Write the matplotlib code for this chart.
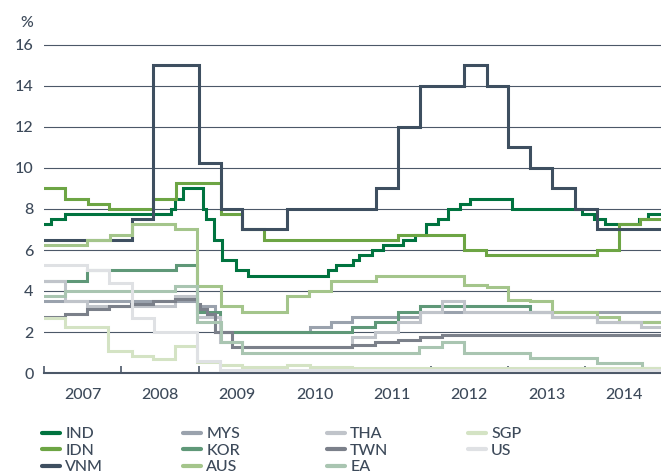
import matplotlib
matplotlib.use("Agg")
import matplotlib.pyplot as plt
from matplotlib.lines import Line2D

plt.rcParams['font.family'] = ['Lato', 'DejaVu Sans']
plt.rcParams['font.weight'] = 'medium'

END = 2015.0

# --- data: change points (decimal years) and policy rates (%) ---
ind_x = [2007.00, 2007.09, 2007.27, 2008.64, 2008.69, 2008.80, 2009.06, 2009.10, 2009.20, 2009.30,
         2009.48, 2009.64, 2010.67, 2010.78, 2011.00, 2011.08, 2011.24, 2011.39, 2011.64, 2011.80,
         2011.94, 2012.10, 2012.23, 2012.38, 2012.51, 2013.05, 2013.96, 2014.12, 2014.26, 2014.70, 2014.81]
ind_y = [7.25, 7.5, 7.75, 8.0, 8.5, 9.0, 8.0, 7.5, 6.5, 5.5,
         5.0, 4.75, 5.0, 5.25, 5.5, 5.75, 6.0, 6.25, 6.5, 6.75,
         7.25, 7.5, 8.0, 8.25, 8.5, 8.0, 7.75, 7.5, 7.25, 7.5, 7.75]

idn_x = [2007.00, 2007.27, 2007.57, 2007.84, 2008.41, 2008.71, 2009.29, 2009.56, 2009.85, 2011.58,
         2012.43, 2012.72, 2014.15, 2014.44, 2014.71]
idn_y = [9.0, 8.5, 8.25, 8.0, 8.5, 9.25, 7.75, 7.0, 6.5, 6.75,
         6.0, 5.75, 6.0, 7.25, 7.5]

vnm_x = [2007.00, 2008.14, 2008.41, 2009.01, 2009.29, 2009.56, 2010.14, 2011.30, 2011.58, 2011.86,
         2012.43, 2012.73, 2013.00, 2013.29, 2013.57, 2013.87, 2014.15]
vnm_y = [6.5, 7.5, 15.0, 10.25, 8.0, 7.0, 8.0, 9.0, 12.0, 14.0,
         15.0, 14.0, 11.0, 10.0, 9.0, 8.0, 7.0]

mys_x = [2007.00, 2008.98, 2009.21, 2010.44, 2010.71, 2010.98, 2011.86]
mys_y = [3.5, 3.25, 2.0, 2.25, 2.5, 2.75, 3.0]

kor_x = [2007.00, 2007.56, 2008.71, 2008.98, 2009.28, 2010.98, 2011.28, 2011.58, 2011.86, 2013.29,
         2013.57, 2014.15]
kor_y = [4.5, 5.0, 5.25, 3.0, 2.0, 2.25, 2.5, 3.0, 3.25, 3.0,
         2.75, 2.5]

aus_x = [2007.00, 2007.56, 2007.85, 2008.14, 2008.69, 2008.98, 2009.29, 2009.56, 2010.14, 2010.43,
         2010.71, 2011.30, 2012.43, 2012.73, 2013.00, 2013.29, 2013.57, 2014.15, 2014.44]
aus_y = [6.25, 6.5, 6.75, 7.25, 7.0, 4.25, 3.25, 3.0, 3.75, 4.0,
         4.5, 4.75, 4.3, 4.2, 3.55, 3.5, 3.0, 2.75, 2.5]

tha_x = [2007.00, 2007.27, 2007.56, 2008.69, 2008.98, 2009.28, 2009.56, 2010.98, 2011.28, 2011.58,
         2011.86, 2012.15, 2012.43, 2013.57, 2014.15, 2014.72]
tha_y = [4.5, 3.5, 3.25, 3.75, 2.75, 1.5, 1.25, 1.75, 2.0, 2.5,
         3.0, 3.5, 3.0, 2.75, 2.5, 2.25]

twn_x = [2007.00, 2007.27, 2007.56, 2007.84, 2008.13, 2008.41, 2008.69, 2008.98, 2009.02, 2009.11,
         2009.21, 2009.43, 2010.98, 2011.28, 2011.58, 2011.86, 2012.15]
twn_y = [2.75, 2.875, 3.125, 3.25, 3.375, 3.5, 3.625, 3.375, 3.125, 2.875,
         2.0, 1.25, 1.375, 1.5, 1.625, 1.75, 1.875]

ea_x = [2007.00, 2007.27, 2008.69, 2008.98, 2009.29, 2009.56, 2011.85, 2012.15, 2012.43, 2013.29,
        2014.15, 2014.74]
ea_y = [3.75, 4.0, 4.25, 2.5, 1.5, 1.0, 1.25, 1.5, 1.0, 0.75,
        0.5, 0.25]

sgp_x = [2007.00, 2007.27, 2007.83, 2008.14, 2008.41, 2008.69, 2008.98, 2009.28, 2009.56, 2010.14,
         2010.44, 2010.98]
sgp_y = [2.7, 2.25, 1.05, 0.85, 0.7, 1.3, 0.55, 0.4, 0.3, 0.4,
         0.3, 0.25]

us_x = [2007.00, 2007.56, 2007.84, 2008.14, 2008.42, 2008.98, 2009.28]
us_y = [5.25, 5.0, 4.4, 2.7, 2.0, 0.6, 0.15]

series = [
    ("IND", ind_x, ind_y, "#00733f"),
    ("IDN", idn_x, idn_y, "#6da544"),
    ("VNM", vnm_x, vnm_y, "#3e4f60"),
    ("MYS", mys_x, mys_y, "#9aa2ad"),
    ("KOR", kor_x, kor_y, "#5f9878"),
    ("AUS", aus_x, aus_y, "#a4c58b"),
    ("THA", tha_x, tha_y, "#c0c4ca"),
    ("TWN", twn_x, twn_y, "#7b808a"),
    ("EA", ea_x, ea_y, "#a9c5b1"),
    ("SGP", sgp_x, sgp_y, "#d4e3c4"),
    ("US", us_x, us_y, "#dfe1e4"),
]

years = list(range(2007, 2015))
year_labels = [str(y) for y in years]
y_ticks = [0, 2, 4, 6, 8, 10, 12, 14, 16]

TXT = "#3d4a5a"
GRID = "#4c5868"

W, H = 661, 473
fig = plt.figure(figsize=(W / 100, H / 100), dpi=100)
ax = fig.add_axes([44 / W, 100 / H, 618.4 / W, 332.1 / H])

for name, xs, ys, col in series:
    ax.step(list(xs) + [END], list(ys) + [ys[-1]], where='post', color=col, lw=2.2,
            solid_joinstyle='miter', zorder=3)

ax.set_xlim(2007, 2015)
ax.set_ylim(0, 16.2)
ax.set_yticks(y_ticks)
ax.yaxis.grid(True, color=GRID, lw=0.8, zorder=0)
ax.set_axisbelow(True)
ax.tick_params(axis='y', length=0, pad=7.5, labelsize=11.5, labelcolor=TXT)

ax.set_xticks(years)
ax.set_xticklabels([])
ax.set_xticks([y + 0.5 for y in years], minor=True)
ax.set_xticklabels(year_labels, minor=True)
ax.tick_params(axis='x', which='major', direction='in', length=5, width=1.2, color=GRID)
ax.tick_params(axis='x', which='minor', length=0, pad=10.5, labelsize=11.5, labelcolor=TXT)

for s in ['top', 'right', 'left']:
    ax.spines[s].set_visible(False)
ax.spines['bottom'].set_color(GRID)
ax.spines['bottom'].set_linewidth(1.5)

fig.text(27 / W, 1 - 23 / H, "%", ha='center', va='center', fontsize=11.5, color=TXT)

# legend: four columns
cols = [series[0:3], series[3:6], series[6:9], series[9:11]]
col_x = [42, 183, 327, 468]
for group, cx in zip(cols, col_x):
    handles = [Line2D([0], [0], color=c, lw=3, solid_capstyle='round') for _, _, _, c in group]
    labels = [n for n, _, _, _ in group]
    leg = fig.legend(handles, labels, loc='upper left', bbox_to_anchor=(cx / W, 1 - 427 / H),
                     frameon=False, fontsize=11.5, handlelength=1.15, handletextpad=0.3,
                     labelspacing=0.15, borderpad=0, borderaxespad=0)
    for t in leg.get_texts():
        t.set_color(TXT)

fig.savefig("out.png", dpi=100)
